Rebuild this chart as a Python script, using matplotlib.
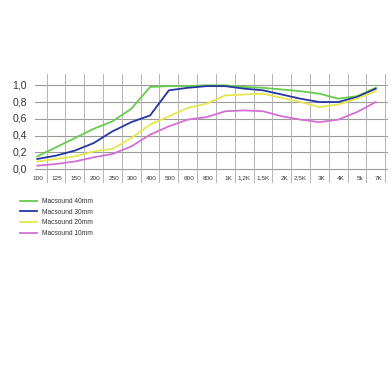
import matplotlib

matplotlib.use("Agg")
import matplotlib.pyplot as plt
import numpy as np

# ---------------------------------------------------------------------------
# Data (absorption coefficient per frequency band)
# ---------------------------------------------------------------------------

FREQ_LABELS = ["100", "125", "150", "200", "250", "300", "400", "500", "600", "800",
               "1K", "1,2K", "1,5K", "2K", "2,5K", "3K", "4K", "5k", "7K"]

MACSOUND_40 = [0.15, 0.26, 0.37, 0.48, 0.57, 0.72, 0.98, 0.99, 0.99, 1.00,
               1.00, 0.98, 0.97, 0.95, 0.93, 0.90, 0.84, 0.87, 0.97]
MACSOUND_30 = [0.12, 0.16, 0.22, 0.31, 0.45, 0.56, 0.64, 0.94, 0.97, 0.99,
               0.99, 0.96, 0.94, 0.89, 0.84, 0.80, 0.80, 0.86, 0.96]
MACSOUND_20 = [0.09, 0.12, 0.15, 0.21, 0.24, 0.37, 0.53, 0.63, 0.73, 0.78,
               0.88, 0.89, 0.90, 0.85, 0.80, 0.74, 0.77, 0.84, 0.93]
MACSOUND_10 = [0.04, 0.06, 0.09, 0.14, 0.18, 0.27, 0.41, 0.51, 0.59, 0.62,
               0.69, 0.70, 0.69, 0.63, 0.59, 0.56, 0.59, 0.68, 0.80]

Y_TICKS = [0.0, 0.2, 0.4, 0.6, 0.8, 1.0]

SERIES = [
    ("Macsound 40mm", MACSOUND_40, "#66cc4c"),
    ("Macsound 30mm", MACSOUND_30, "#2436a0"),
    ("Macsound 20mm", MACSOUND_20, "#e6e64e"),
    ("Macsound 10mm", MACSOUND_10, "#d470d4"),
]

FONT = ["Liberation Sans Narrow", "Liberation Sans", "DejaVu Sans"]


def main() -> None:
    W, H = 392, 392
    fig = plt.figure(figsize=(W / 100, H / 100), dpi=100)
    fig.patch.set_facecolor("white")

    # axes box in pixels: x 35..388, y 74..183 (top..bottom)
    ax = fig.add_axes([35 / W, 1 - 183 / H, (388 - 35) / W, (183 - 74) / H])
    ax.set_xlim(-0.12, 18.65)
    ax.set_ylim(-0.167, 1.135)
    ax.axis("off")

    x = np.arange(len(FREQ_LABELS))

    # grid
    for yv in Y_TICKS:
        ax.axhline(yv, color="#9a9a9a", lw=0.8, zorder=1)
        ax.text(-0.55, yv, f"{yv:.1f}".replace(".", ","), ha="right", va="center",
                fontsize=7.5, family=FONT, color="#333333")
    for xi in x:
        ax.axvline(xi + 0.5, color="#b4b4b4", lw=0.7, zorder=1)
        ax.text(xi + 0.35, -0.108, FREQ_LABELS[xi], ha="right", va="center",
                fontsize=4.6, family=FONT, color="#333333")

    for label, vals, color in SERIES:
        ax.plot(x, vals, color=color, lw=1.3, label=label, zorder=3)

    fig.legend(loc="upper left", bbox_to_anchor=(20 / W, 1 - 198 / H), frameon=False,
               prop={"family": FONT, "size": 4.8}, handlelength=2.5, handletextpad=0.8,
               labelspacing=0.55, borderpad=0, borderaxespad=0, labelcolor="#333333")

    fig.savefig("out.png", dpi=100, facecolor="white")
    plt.close(fig)


if __name__ == "__main__":
    main()
